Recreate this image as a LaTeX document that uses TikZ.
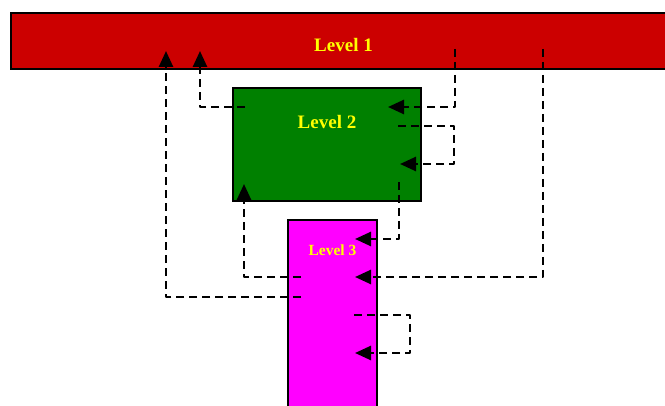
\documentclass[tikz,border=0pt]{standalone}
\usepackage{fontspec}
\setmainfont{Liberation Serif}
\usetikzlibrary{arrows.meta}
\definecolor{lvred}{HTML}{CC0000}
\definecolor{lvgreen}{HTML}{008000}
\definecolor{lvmag}{HTML}{FF00FF}
\definecolor{lvyel}{HTML}{FFFF00}
\begin{document}
\begin{tikzpicture}[x=1pt,y=-1pt,
  box/.style={draw=black,line width=2pt,inner sep=0pt,outer sep=0pt,anchor=north west},
  lbl/.style={text=lvyel,font=\bfseries\fontsize{19}{19}\selectfont,inner sep=0pt},
  lblsmall/.style={text=lvyel,font=\bfseries\fontsize{15.5}{15.5}\selectfont,inner sep=0pt},
  conn/.style={line width=2.6pt,dash pattern=on 8pt off 5pt,line join=round,
    -{Triangle[length=16pt,width=14pt]}}]
\useasboundingbox (0,0) rectangle (665,406);
% boxes
\node[box,fill=lvred,minimum width=670pt,minimum height=56pt] (L1) at (11,13) {};
\node[box,fill=lvgreen,minimum width=188pt,minimum height=113pt] (L2) at (233,88) {};
\node[box,fill=lvmag,minimum width=89pt,minimum height=200pt] (L3) at (288,220) {};
% labels
\node[lbl] (t1) at (343.5,45) {Level 1};
\node[lbl] (t2) at (327,122) {Level 2};
\node[lblsmall] (t3) at (332.5,250) {Level 3};
% ports
\coordinate (p1s) at (455,49);  \coordinate (p1e) at (388,107);
\coordinate (p2s) at (245,107); \coordinate (p2e) at (200,51);
\coordinate (p3s) at (398,126); \coordinate (p3e) at (400,164);
\coordinate (p4s) at (301,277); \coordinate (p4e) at (244,184);
\coordinate (p5s) at (399,182); \coordinate (p5e) at (355,239);
\coordinate (p6s) at (543,49);  \coordinate (p6e) at (355,277);
\coordinate (p7s) at (301,297); \coordinate (p7e) at (166,51);
\coordinate (p8s) at (354,315); \coordinate (p8e) at (355,353);
% connectors
\draw[conn] (p1s) |- (p1e);
\draw[conn] (p2s) -| (p2e);
\draw[conn] (p3s) -- (454,126) -- (454,164) -- (p3e);
\draw[conn] (p4s) -| (p4e);
\draw[conn] (p5s) |- (p5e);
\draw[conn] (p6s) |- (p6e);
\draw[conn] (p7s) -| (p7e);
\draw[conn] (p8s) -- (410,315) -- (410,353) -- (p8e);
\end{tikzpicture}
\end{document}
